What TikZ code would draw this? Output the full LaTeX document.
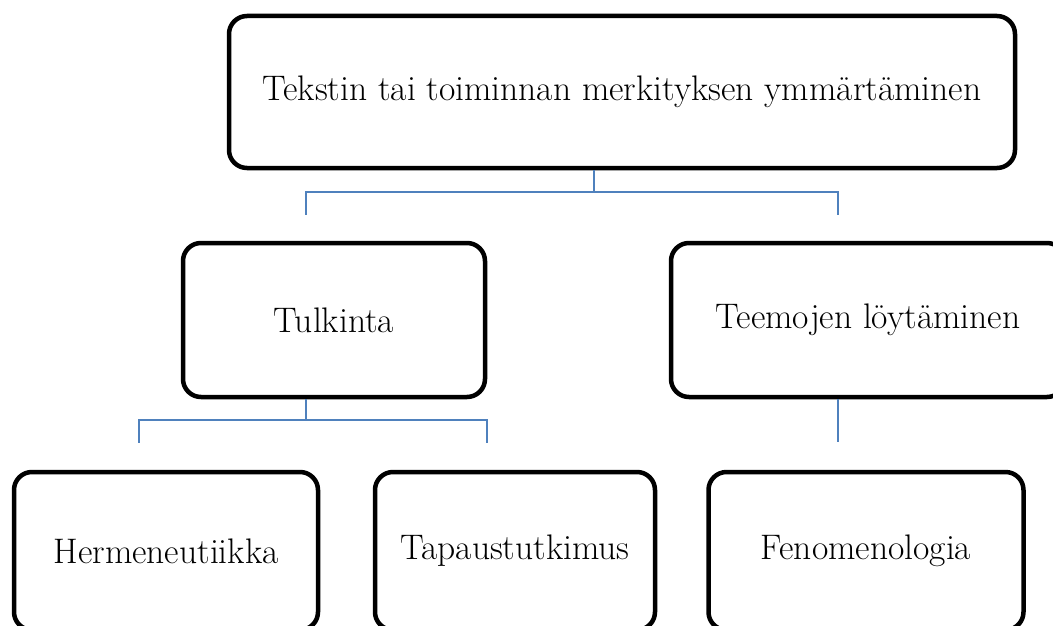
\documentclass[tikz,border=0pt]{standalone}
\usepackage{fontspec}
\definecolor{linkblue}{RGB}{79,129,189}
\tikzset{
  box/.style={draw, line width=4.5pt, rounded corners=18pt, align=center,
    inner sep=0pt, font=\fontsize{35.5}{42}\selectfont},
  link/.style={draw=linkblue, line width=1.6pt},
}
\begin{document}
\begin{tikzpicture}[x=1pt,y=-1pt]
\useasboundingbox (0,0) rectangle (1053,626);
\clip (0,0) rectangle (1053,626);
% boxes
\node[box, minimum width=786pt, minimum height=152pt] (top) at (622,92) {Tekstin tai toiminnan merkityksen ymmärtäminen};
\node[box, minimum width=302pt, minimum height=154pt] (tulk) at (334,320) {Tulkinta};
\node[box, minimum width=394pt, minimum height=154pt] (teem) at (868,320) {Teemojen löytäminen};
\node[box, minimum width=304pt, minimum height=158pt] (herm) at (166,551) {Hermeneutiikka};
\node[box, minimum width=280pt, minimum height=158pt] (tapa) at (515,551) {Tapaustutkimus};
\node[box, minimum width=315pt, minimum height=158pt] (feno) at (866,551) {Fenomenologia};
% connectors
\coordinate (topj) at ([xshift=-28pt,yshift=-22pt]top.south);
\draw[link] ([xshift=-28pt]top.south) -- (topj);
\draw[link] (topj) -- ++(-288,0) -- ++(0,23);
\draw[link] (topj) -- ++(244,0) -- ++(0,23);
\coordinate (tulkj) at ([xshift=-28pt,yshift=-21pt]tulk.south);
\draw[link] ([xshift=-28pt]tulk.south) -- (tulkj);
\draw[link] (tulkj) -- ++(-167,0) -- ++(0,23);
\draw[link] (tulkj) -- ++(181,0) -- ++(0,23);
\draw[link] ([xshift=-30pt]teem.south) -- ++(0,43);
\end{tikzpicture}
\end{document}
